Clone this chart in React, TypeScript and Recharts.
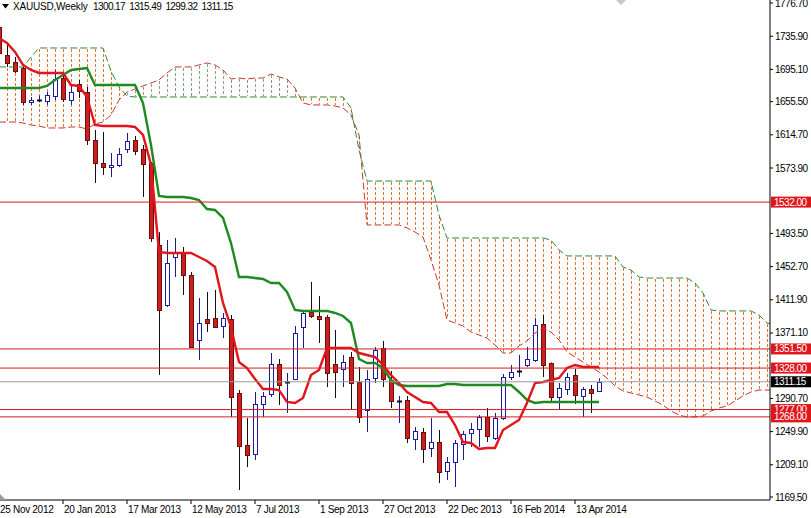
import React from 'react';
import { ComposedChart, Bar, Line, XAxis, YAxis, ReferenceLine } from 'recharts';

// Weekly XAUUSD candles, bar index 0 = 25 Nov 2012
const opens = [1747.2, 1712.8, 1704.2, 1696.8, 1655.0, 1657.4, 1656.3, 1662.4, 1684.5, 1657.5,
  1677.2, 1667.3, 1608.3, 1580.1, 1575.1, 1577.6, 1597.3, 1608.3, 1597.3, 1580.1,
  1479.3, 1405.5, 1464.5, 1469.4, 1442.4, 1362.5, 1388.3, 1389.5, 1379.7, 1388.3,
  1297.4, 1233.4, 1222.4, 1283.8, 1296.1, 1333.0, 1310.6, 1314.6, 1378.5, 1396.9,
  1392.0, 1390.8, 1333.0, 1326.9, 1341.6, 1310.9, 1276.5, 1315.8, 1352.7, 1313.3,
  1287.4, 1288.8, 1240.8, 1249.4, 1229.8, 1237.1, 1201.5, 1212.6, 1234.7, 1248.2,
  1253.1, 1267.9, 1242.1, 1266.6, 1317.0, 1324.3, 1331.8, 1337.9, 1382.2, 1334.2,
  1292.4, 1302.3, 1319.5, 1293.7, 1302.3, 1300.17];
const highs = [1753.4, 1725.1, 1710.3, 1698.1, 1661.2, 1662.8, 1667.3, 1694.4, 1688.2, 1675.9,
  1682.1, 1673.5, 1620.6, 1618.2, 1592.3, 1598.5, 1616.9, 1613.3, 1602.2, 1581.3,
  1495.2, 1485.4, 1487.9, 1476.8, 1446.1, 1414.1, 1421.5, 1424.0, 1395.7, 1393.2,
  1301.0, 1266.6, 1298.6, 1298.6, 1346.5, 1339.1, 1321.9, 1379.7, 1399.4, 1433.8,
  1416.6, 1393.2, 1374.8, 1344.1, 1347.8, 1329.3, 1325.6, 1353.9, 1361.3, 1324.4,
  1293.7, 1293.7, 1255.6, 1254.3, 1266.6, 1251.9, 1218.7, 1239.6, 1250.6, 1260.5,
  1270.3, 1278.9, 1272.8, 1320.7, 1331.8, 1344.1, 1353.9, 1389.5, 1393.2, 1334.9,
  1309.6, 1321.9, 1326.9, 1304.7, 1307.2, 1315.49];
const lows = [1706.7, 1698.1, 1690.7, 1651.4, 1651.4, 1654.6, 1651.4, 1657.5, 1655.0, 1651.4,
  1659.9, 1602.2, 1555.5, 1565.3, 1562.8, 1575.1, 1592.3, 1589.9, 1538.3, 1483.0,
  1319.5, 1403.1, 1439.9, 1417.8, 1352.7, 1337.9, 1372.3, 1377.3, 1364.9, 1267.9,
  1178.1, 1206.4, 1215.0, 1267.9, 1292.4, 1282.6, 1272.8, 1313.3, 1352.7, 1389.5,
  1358.8, 1304.7, 1291.2, 1304.7, 1276.5, 1260.5, 1249.4, 1309.6, 1304.7, 1278.9,
  1260.5, 1235.9, 1227.3, 1211.3, 1218.7, 1186.7, 1190.4, 1181.8, 1215.0, 1231.0,
  1231.0, 1237.1, 1239.6, 1264.2, 1313.3, 1317.0, 1329.3, 1335.5, 1317.0, 1287.5,
  1276.5, 1294.9, 1283.8, 1267.9, 1272.8, 1299.32];
const closes = [1715.3, 1703.0, 1693.1, 1655.0, 1657.5, 1657.6, 1663.6, 1683.3, 1658.7, 1667.3,
  1668.5, 1608.3, 1580.1, 1575.1, 1577.6, 1591.1, 1607.1, 1594.8, 1578.8, 1487.9,
  1399.4, 1457.1, 1469.4, 1442.4, 1353.9, 1383.4, 1383.4, 1378.5, 1389.5, 1292.4,
  1232.2, 1221.2, 1283.8, 1293.7, 1333.0, 1307.2, 1311.2, 1371.1, 1395.7, 1392.0,
  1388.3, 1321.9, 1323.2, 1335.5, 1309.6, 1267.9, 1314.6, 1350.2, 1314.6, 1287.5,
  1287.6, 1242.1, 1250.6, 1228.5, 1237.1, 1200.3, 1212.6, 1235.9, 1246.9, 1253.1,
  1267.9, 1244.5, 1266.6, 1317.0, 1323.2, 1324.5, 1339.1, 1380.9, 1331.8, 1292.4,
  1303.5, 1317.0, 1294.9, 1302.3, 1297.4, 1311.15];

// Ichimoku lines
const tenkan = [1733.7, 1727.5, 1716.5, 1700.5, 1694.4, 1690.7, 1690.7, 1690.7, 1690.7, 1675.9,
  1674.7, 1661.2, 1626.8, 1625.5, 1625.5, 1625.5, 1625.5, 1624.3, 1614.5, 1578.0,
  1470.7, 1469.4, 1469.4, 1469.4, 1469.4, 1464.5, 1459.6, 1452.2, 1408.0, 1378.5,
  1335.5, 1328.1, 1314.6, 1302.3, 1302.3, 1301.0, 1286.3, 1285.1, 1291.2, 1319.5,
  1325.6, 1352.7, 1352.7, 1352.7, 1352.7, 1346.5, 1344.1, 1341.6, 1331.8, 1319.5,
  1309.6, 1298.6, 1292.4, 1286.3, 1285.1, 1274.0, 1274.0, 1258.0, 1237.1, 1235.9,
  1228.5, 1229.8, 1229.8, 1251.9, 1258.0, 1264.2, 1285.1, 1309.6, 1310.9, 1313.3,
  1315.8, 1328.1, 1331.8, 1329.3, 1329.3, 1329.3];
const kijun = [1672.2, 1672.2, 1672.2, 1672.2, 1672.2, 1672.2, 1674.7, 1682.1, 1688.2, 1694.4,
  1695.6, 1696.8, 1675.9, 1675.9, 1675.9, 1675.9, 1675.9, 1675.9, 1653.8, 1602.2,
  1539.5, 1538.3, 1538.3, 1538.3, 1537.0, 1534.6, 1523.5, 1522.3, 1512.5, 1481.7,
  1440.0, 1440.0, 1438.7, 1437.5, 1432.6, 1432.6, 1421.5, 1399.4, 1398.2, 1398.2,
  1398.2, 1398.2, 1395.7, 1392.0, 1383.4, 1339.1, 1334.2, 1334.2, 1328.1, 1313.3,
  1307.2, 1306.0, 1306.0, 1306.0, 1306.0, 1306.0, 1308.4, 1308.4, 1307.2, 1307.2,
  1307.2, 1307.2, 1307.2, 1307.2, 1307.2, 1298.6, 1288.8, 1285.1, 1286.3, 1286.3,
  1286.3, 1286.3, 1286.3, 1286.3, 1286.3, 1286.3];
const spanA = [1630.4, 1630.4, 1630.4, 1629.2, 1626.8, 1625.5, 1623.1, 1623.1, 1623.1, 1624.3,
  1624.3, 1621.8, 1628.0, 1630.4, 1639.1, 1657.5, 1667.3, 1671.0, 1674.7, 1678.4,
  1682.1, 1690.7, 1698.1, 1698.1, 1698.1, 1700.5, 1703.0, 1700.5, 1694.4, 1683.3,
  1684.5, 1683.3, 1684.5, 1684.5, 1689.4, 1685.8, 1683.3, 1672.2, 1653.8, 1651.4,
  1651.4, 1651.4, 1650.1, 1647.7, 1639.1, 1614.5, 1503.9, 1503.9, 1503.9, 1503.9,
  1503.9, 1500.2, 1495.2, 1489.1, 1460.8, 1430.1, 1387.1, 1383.4, 1379.7, 1372.3,
  1368.6, 1364.9, 1356.4, 1346.5, 1346.5, 1355.1, 1361.3, 1371.1, 1377.3, 1372.3,
  1362.5, 1347.8, 1341.6, 1335.5, 1329.3, 1323.2, 1315.8, 1306.0, 1299.8, 1297.4,
  1294.9, 1292.4, 1287.5, 1282.6, 1275.2, 1270.3, 1267.9, 1267.9, 1269.1, 1275.2,
  1278.9, 1281.4, 1287.5, 1293.7, 1298.6, 1301.0, 1301.0, 1301.0];
const spanB = [1698.1, 1698.1, 1698.1, 1698.1, 1710.3, 1721.4, 1721.4, 1721.4, 1721.4, 1721.4,
  1721.4, 1721.4, 1721.4, 1721.4, 1693.1, 1673.5, 1662.4, 1661.2, 1661.2, 1661.2,
  1661.2, 1661.2, 1661.2, 1661.2, 1661.2, 1661.2, 1661.2, 1661.2, 1661.2, 1661.2,
  1661.2, 1661.2, 1661.2, 1661.2, 1661.2, 1661.2, 1661.2, 1661.2, 1661.2, 1661.2,
  1661.2, 1661.2, 1661.2, 1661.2, 1647.7, 1596.0, 1557.9, 1557.9, 1557.9, 1557.9,
  1557.9, 1557.9, 1557.9, 1557.9, 1557.9, 1516.1, 1487.9, 1487.9, 1487.9, 1487.9,
  1487.9, 1487.9, 1487.9, 1487.9, 1487.9, 1487.9, 1487.9, 1487.9, 1487.9, 1485.4,
  1473.1, 1465.8, 1465.8, 1465.8, 1465.8, 1465.8, 1465.8, 1465.8, 1452.2, 1448.5,
  1440.0, 1438.7, 1438.7, 1438.7, 1438.7, 1438.7, 1438.7, 1432.6, 1420.3, 1399.4,
  1398.2, 1398.2, 1398.2, 1398.2, 1398.2, 1393.2, 1383.4, 1380.9];

const dateLabels = ['25 Nov 2012', '20 Jan 2013', '17 Mar 2013', '12 May 2013', '7 Jul 2013',
  '1 Sep 2013', '27 Oct 2013', '22 Dec 2013', '16 Feb 2014', '13 Apr 2014'];
const dateTickBars = [0, 8, 16, 24, 32, 40, 48, 56, 64, 72];
const priceTicks = [1776.7, 1735.9, 1695.1, 1655.5, 1614.7, 1573.9, 1493.5, 1452.7, 1411.9,
  1371.1, 1290.7, 1249.9, 1209.1, 1169.5];
const levelLines = [1532.0, 1351.5, 1328.0, 1277.0, 1268.0];
const lastPrice = 1311.15;
const symbolTitle = 'XAUUSD,Weekly';
const headerValues = ['1300.17', '1315.49', '1299.32', '1311.15'];

const rows = spanA.map((a, k) => ({
  k,
  o: k < opens.length ? opens[k] : null,
  h: k < highs.length ? highs[k] : null,
  l: k < lows.length ? lows[k] : null,
  c: k < closes.length ? closes[k] : null,
  tenkan: k < tenkan.length ? tenkan[k] : null,
  kijun: k < kijun.length ? kijun[k] : null,
  spanA: a,
  spanB: spanB[k],
}));

const FONT = '"Liberation Sans", Arial, sans-serif';

const candleRange = (d: any) => (d.o == null ? null : [d.l, d.h]);
// cloud where Span A is above Span B, and where Span B is above Span A
const cloudUpRange = (d: any) => (d.spanA >= d.spanB ? [d.spanB, d.spanA] : null);
const cloudDownRange = (d: any) => (d.spanA < d.spanB ? [d.spanA, d.spanB] : null);

const Candle = (props: any) => {
  const { x, y, width, height, payload } = props;
  if (!payload || payload.o == null || !isFinite(y) || !isFinite(height)) return null;
  const { o, h, l, c } = payload;
  const top = Math.min(y, y + height);
  const bot = Math.max(y, y + height);
  const r = (bot - top) / (h - l);
  const py = (v: number) => top + (h - v) * r;
  const cx = Math.round(x + width / 2);
  const up = c >= o;
  const doji = Math.abs(c - o) < 1;
  const bt = Math.round(Math.min(py(o), py(c)));
  const bb = Math.round(Math.max(py(o), py(c)));
  return (
    <g>
      <line x1={cx + 0.5} x2={cx + 0.5} y1={top} y2={bot} stroke={up ? '#1c1c8a' : '#111'} strokeWidth={1} />
      {doji ? (
        <line x1={cx - 2} x2={cx + 3} y1={bt + 0.5} y2={bt + 0.5} stroke="#111" strokeWidth={2} />
      ) : (
        <rect x={cx - 1.5} y={bt + 0.5} width={4} height={Math.max(bb - bt, 1)}
          fill={up ? '#ffffff' : '#cc1f1f'} stroke={up ? '#1c1c9a' : '#6e0d0d'} strokeWidth={1} />
      )}
    </g>
  );
};

const makeHatch = (color: string) => (props: any) => {
  const { x, y, width, height } = props;
  if (!isFinite(x) || !isFinite(y) || !isFinite(height) || !height) return null;
  const top = Math.round(Math.min(y, y + height));
  const bot = Math.round(Math.max(y, y + height));
  const cx = Math.round(x + width / 2);
  const dashes = [];
  for (let yy = top + 1; yy < bot - 1; yy += 5) {
    dashes.push(<rect key={yy} x={cx} y={yy} width={1} height={Math.min(3, bot - 1 - yy)} fill={color} stroke="none" />);
  }
  return <g>{dashes}</g>;
};
const HatchUp = makeHatch('#86a086');
const HatchDown = makeHatch('#ea7236');

const PriceTick = (props: any) => {
  const { x, y, payload } = props;
  return (
    <text x={x} y={y} dy={3.5} fontSize={10} fontFamily={FONT} letterSpacing={-0.5} fill="#000" textAnchor="start">
      {Number(payload.value).toFixed(2)}
    </text>
  );
};

const DateTick = (props: any) => {
  const { x, y, payload } = props;
  const i = dateTickBars.indexOf(payload.value);
  return (
    <text x={x + 1} y={y + 9} fontSize={10} fontFamily={FONT} letterSpacing={-0.3} fill="#000" textAnchor="start">
      {dateLabels[i]}
    </text>
  );
};

const PriceTag = (props: any) => {
  const { viewBox, price, bg } = props;
  if (!viewBox) return null;
  const x = viewBox.x + viewBox.width + 1;
  const y = viewBox.y;
  return (
    <g>
      <rect x={x} y={y - 5.5} width={40} height={11} fill={bg} />
      <text x={x + 3} y={y + 3.5} fontSize={10} fontFamily={FONT} letterSpacing={-0.5} fill="#fff" textAnchor="start">
        {price.toFixed(2)}
      </text>
    </g>
  );
};

export default function App() {
  return (
    <div style={{ position: 'absolute', left: 0, top: 0, width: 811, height: 518, background: '#fff', overflow: 'hidden' }}>
      <ComposedChart width={811} height={518} data={rows} margin={{ top: 0, right: 0, bottom: 0, left: 0 }}>
        <XAxis dataKey="k" type="number" domain={[0.125, 96.375]} allowDataOverflow ticks={dateTickBars}
          interval={0} tick={<DateTick />} tickSize={4} tickMargin={0} height={18}
          axisLine={{ stroke: '#000' }} tickLine={{ stroke: '#000' }} />
        <XAxis xAxisId="hatchUp" dataKey="k" type="number" domain={[0.125, 96.375]} allowDataOverflow hide />
        <XAxis xAxisId="hatchDown" dataKey="k" type="number" domain={[0.125, 96.375]} allowDataOverflow hide />
        <YAxis orientation="right" type="number" domain={[1165.84, 1780.39]} allowDataOverflow ticks={priceTicks}
          interval={0} width={41} tickSize={3} tickMargin={2} tick={<PriceTick />}
          axisLine={{ stroke: '#000' }} tickLine={{ stroke: '#000' }} />
        <Bar xAxisId="hatchUp" dataKey={cloudUpRange} barSize={1} fill="#86a086" shape={(p: any) => <HatchUp {...p} />} isAnimationActive={false} />
        <Bar xAxisId="hatchDown" dataKey={cloudDownRange} barSize={1} fill="#ea7236" shape={(p: any) => <HatchDown {...p} />} isAnimationActive={false} />
        <Line dataKey="spanA" type="linear" stroke="#c23a2e" strokeWidth={1} strokeDasharray="7 3" dot={false} activeDot={false} isAnimationActive={false} />
        <Line dataKey="spanB" type="linear" stroke="#2f8a2f" strokeWidth={1} strokeDasharray="7 3" dot={false} activeDot={false} isAnimationActive={false} />
        <Bar dataKey={candleRange} barSize={5} shape={(p: any) => <Candle {...p} />} isAnimationActive={false} />
        <Line dataKey="kijun" type="linear" stroke="#1f8a1f" strokeWidth={2.4} dot={false} activeDot={false} isAnimationActive={false} />
        <Line dataKey="tenkan" type="linear" stroke="#e3141c" strokeWidth={2.4} dot={false} activeDot={false} isAnimationActive={false} />
        <ReferenceLine y={lastPrice} stroke="#9a9a9a" strokeWidth={1}
          label={<PriceTag price={lastPrice} bg="#000000" />} />
        {levelLines.map((v) => (
          <ReferenceLine key={v} y={v} stroke="#d81c1c" strokeWidth={1}
            label={<PriceTag price={v} bg="#e0161c" />} />
        ))}
      </ComposedChart>
      <svg style={{ position: 'absolute', left: 2, top: 4 }} width={7} height={5}>
        <polygon points="0,0 7,0 3.5,4.5" fill="#000" />
      </svg>
      <div style={{ position: 'absolute', left: 13, top: 2, fontFamily: FONT, fontSize: 10, lineHeight: '10px', letterSpacing: -0.2, color: '#000', whiteSpace: 'nowrap' }}>
        {symbolTitle}
      </div>
      {headerValues.map((v, i) => (
        <div key={i} style={{ position: 'absolute', left: 93 + i * 36.2, top: 2, fontFamily: FONT, fontSize: 10, lineHeight: '10px', letterSpacing: -0.6, color: '#000', whiteSpace: 'nowrap' }}>
          {v}
        </div>
      ))}
      <svg style={{ position: 'absolute', left: 616, top: 0 }} width={10} height={6}>
        <polygon points="0,0 10,0 5,5" fill="#c8c8c8" />
      </svg>
      <svg style={{ position: 'absolute', left: 0, top: 494 }} width={6} height={6}>
        <polygon points="0,0 0,6 6,6" fill="#9a9a9a" />
      </svg>
    </div>
  );
}
